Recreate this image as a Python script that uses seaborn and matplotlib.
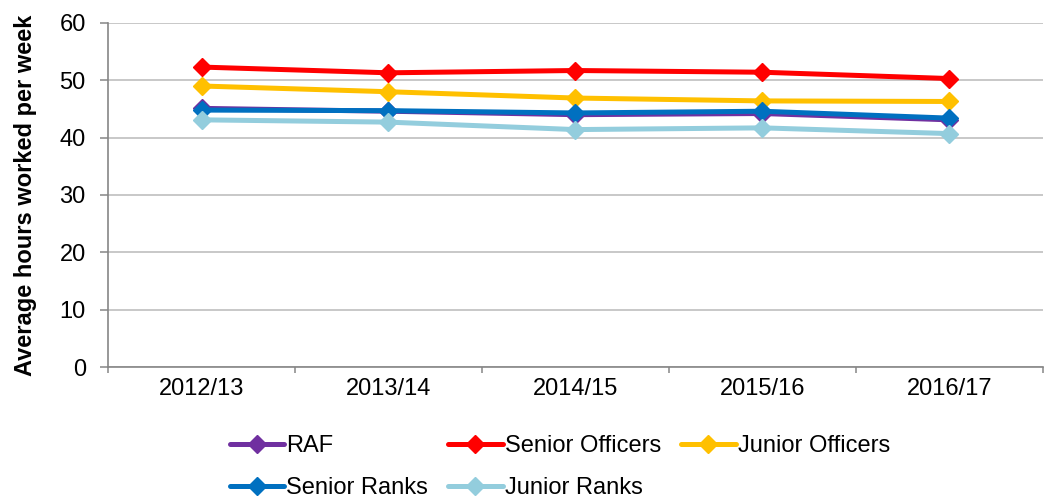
import matplotlib
matplotlib.use("Agg")
import matplotlib.pyplot as plt
from matplotlib.ticker import FixedLocator
import seaborn as sns
import pandas as pd

# Average weekly working hours by rank group
years = ["2012/13", "2013/14", "2014/15", "2015/16", "2016/17"]
raf = [45.1, 44.6, 44.0, 44.2, 43.1]
senior_officers = [52.3, 51.3, 51.7, 51.4, 50.3]
junior_officers = [49.0, 48.0, 46.9, 46.4, 46.3]
senior_ranks = [44.8, 44.7, 44.3, 44.6, 43.4]
junior_ranks = [43.1, 42.7, 41.4, 41.7, 40.7]

groups = ["RAF", "Senior Officers", "Junior Officers", "Senior Ranks", "Junior Ranks"]
series = [raf, senior_officers, junior_officers, senior_ranks, junior_ranks]
colors = ["#7030A0", "#FF0000", "#FFC000", "#0070C0", "#93CDDD"]

df = pd.DataFrame(
    [(y, g, v) for g, vals in zip(groups, series) for y, v in zip(years, vals)],
    columns=["year", "group", "hours"],
)

sns.set_style("white")
plt.rcParams["font.family"] = ["Liberation Sans", "DejaVu Sans"]
plt.rcParams["text.color"] = "black"
plt.rcParams["axes.labelcolor"] = "black"
plt.rcParams["xtick.color"] = "black"
plt.rcParams["ytick.color"] = "black"

fig = plt.figure(figsize=(10.49, 4.98), dpi=100)
ax = fig.add_axes([0.103, 0.263, 0.891, 0.691])

sns.lineplot(
    data=df, x="year", y="hours", hue="group", hue_order=groups,
    palette=dict(zip(groups, colors)), marker="D", markersize=9,
    markeredgewidth=1, linewidth=3.6, legend=False, ax=ax, sort=False,
)
for line, c in zip(ax.get_lines(), colors):
    line.set_markeredgecolor(c)

ax.set_xlim(-0.5, len(years) - 0.5)
ax.set_ylim(0, 60)
ax.set_yticks(range(0, 61, 10))
ax.yaxis.grid(True, color="#BFBFBF", linewidth=1.2)
ax.xaxis.grid(False)

for side in ("top", "right"):
    ax.spines[side].set_visible(False)
for side in ("left", "bottom"):
    ax.spines[side].set_color("#868686")
    ax.spines[side].set_linewidth(1.2)

ax.tick_params(axis="y", which="major", left=True, length=6, width=1.1,
               color="#868686", labelcolor="black", pad=10, labelsize=17)
ax.tick_params(axis="x", which="major", bottom=False, length=0, pad=8,
               labelcolor="black", labelsize=17)
ax.xaxis.set_minor_locator(FixedLocator([i + 0.5 for i in range(-1, len(years))]))
ax.tick_params(axis="x", which="minor", bottom=True, length=4, width=1.1,
               color="#868686", direction="out")

ax.set_xlabel("")
ax.set_ylabel("Average hours worked per week", fontsize=17, fontweight="bold",
              color="black")
ax.yaxis.set_label_coords(-0.076, 0.5)

# Legend laid out in rows: RAF, Senior Officers, Junior Officers / Senior Ranks, Junior Ranks
lines = ax.get_lines()[:len(groups)]
order = [0, 3, 1, 4, 2]
leg = fig.legend(
    [lines[i] for i in order], [groups[i] for i in order],
    ncol=3, loc="upper left", bbox_to_anchor=(0.219, 0.126),
    frameon=False, fontsize=17, handlelength=2.3, handletextpad=0.1,
    columnspacing=0.85, labelspacing=0.85, borderaxespad=0, borderpad=0,
    labelcolor="black",
)

fig.savefig("out.png", dpi=100)
